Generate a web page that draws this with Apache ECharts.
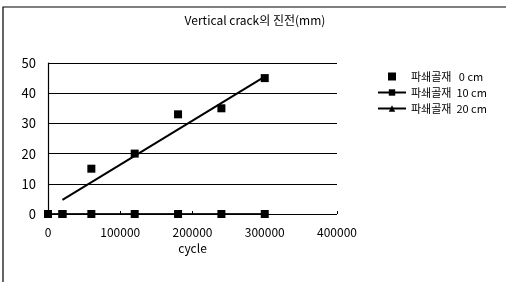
<!DOCTYPE html>
<html><head><meta charset="utf-8">
<script src="https://cdn.jsdelivr.net/npm/echarts@6/dist/echarts.min.js"></script>
<style>html,body{margin:0;padding:0;background:#fff}#c{width:510px;height:282px}</style>
</head><body><div id="c"></div>
<script>
var title = 'Vertical crack의 진전(mm)';
var xName = 'cycle';
var seriesNames = ['파쇄골재   0 cm', '파쇄골재  10 cm', '파쇄골재  20 cm'];
var cycles0 = [0, 20000, 60000, 120000, 180000, 240000, 300000];
var crack0 = [0, 0, 15, 20, 33, 35, 45];
var cycles10 = [0, 20000, 60000, 120000, 180000, 240000, 300000];
var crack10 = [0, 0, 0, 0, 0, 0, 0];
var cycles20 = [0, 20000, 60000, 120000, 180000, 240000, 300000];
var crack20 = [0, 0, 0, 0, 0, 0, 0];
var trendX = [20000, 300000];
var trendY = [4.7, 45.5];
var yTicks = [0, 10, 20, 30, 40, 50];
var xTicks = [0, 100000, 200000, 300000, 400000];

function pairs(xs, ys){ return xs.map(function(x,i){return [x, ys[i]];}); }
var font = '"Noto Sans CJK KR", "Liberation Sans", sans-serif';
var chart = echarts.init(document.getElementById('c'), null, {renderer:'canvas'});
chart.setOption({
  animation:false,
  backgroundColor:'#fff',
  textStyle:{fontFamily:font, color:'#000'},
  title:{text:title, left:'center', top:9, textStyle:{fontSize:12, fontWeight:'normal', color:'#000', fontFamily:font}},
  graphic:[
    {type:'polyline', shape:{points:[[3,282],[3,7],[506,7]]}, style:{stroke:'#000', lineWidth:1.2, fill:null}}
  ],
  legend:{
    orient:'vertical', left:372, top:66, itemGap:5, itemWidth:28, itemHeight:8,
    symbolKeepAspect:true,
    textStyle:{fontSize:11, color:'#000', fontFamily:font},
    data:[
      {name:seriesNames[0], icon:'path://M0,0L10,0L10,10L0,10Z', itemStyle:{color:'#000', opacity:1}},
      {name:seriesNames[1]},
      {name:seriesNames[2]}
    ]
  },
  grid:{left:48, right:173, top:63, bottom:68, containLabel:false},
  xAxis:{
    type:'value', min:xTicks[0], max:xTicks[xTicks.length-1], interval:100000,
    name:xName, nameLocation:'middle', nameGap:25,
    nameTextStyle:{fontSize:12, color:'#000', fontFamily:font},
    axisLine:{show:false},
    axisTick:{show:true, inside:true, length:3, lineStyle:{color:'#000'}},
    axisLabel:{fontSize:12, color:'#000', margin:12, fontFamily:font, formatter:function(v){return String(v);}},
    splitLine:{show:false}
  },
  yAxis:{
    type:'value', min:yTicks[0], max:yTicks[yTicks.length-1], interval:10,
    axisLine:{show:true, lineStyle:{color:'#000', width:1.2}},
    axisTick:{show:false},
    axisLabel:{fontSize:13, color:'#000', margin:12, fontFamily:font},
    splitLine:{show:true, lineStyle:{color:'#000', width:1.2}}
  },
  series:[
    {name:seriesNames[2], type:'line', z:2, data:pairs(cycles20, crack20), symbol:'triangle', symbolSize:7,
     itemStyle:{color:'#000', opacity:1}, lineStyle:{color:'#000', width:1}},
    {name:seriesNames[1], type:'line', z:3, data:pairs(cycles10, crack10), symbol:'rect', symbolSize:8,
     itemStyle:{color:'#000', opacity:1}, lineStyle:{color:'#000', width:1.5}},
    {name:seriesNames[0], type:'scatter', z:4, data:pairs(cycles0, crack0), symbol:'rect', symbolSize:8,
     itemStyle:{color:'#000', opacity:1}},
    {name:'trend', type:'line', z:5, data:pairs(trendX, trendY), symbol:'none',
     lineStyle:{color:'#000', width:2}}
  ]
});
</script></body></html>
